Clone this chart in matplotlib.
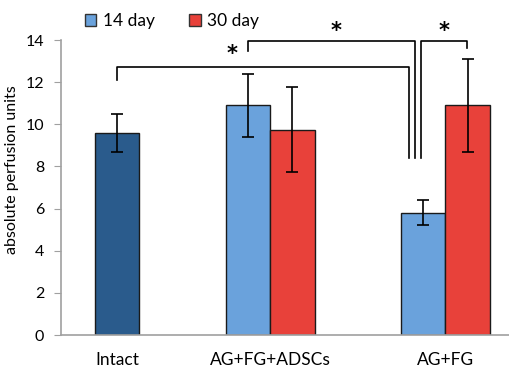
import matplotlib.pyplot as plt
from matplotlib.patches import Patch

plt.rcParams['font.family'] = ['Lato', 'DejaVu Sans']

# values
groups = ['Intact', 'AG+FG+ADSCs', 'AG+FG']
group_pos = [0, 3.44, 7.38]

intact_val = [9.6]
intact_err = [0.9]
day14_val = [10.9, 5.8]
day14_err = [1.5, 0.6]
day30_val = [9.75, 10.9]
day30_err = [2.0, 2.2]

c_intact = '#2a5b8c'
c_14 = '#6aa2dc'
c_30 = '#e8413a'

fig = plt.figure(figsize=(5.1, 3.71), dpi=100)
ax = fig.add_axes([0.1196, 0.097, 0.8804, 0.795])

ek = dict(ecolor='black', elinewidth=1.2, capsize=4, capthick=1.2)
ax.bar(group_pos[0], intact_val, 1, yerr=intact_err, color=c_intact,
       edgecolor='#1a1a1a', linewidth=1, error_kw=ek)
x14 = [p - 0.5 for p in group_pos[1:]]
x30 = [p + 0.5 for p in group_pos[1:]]
ax.bar(x14, day14_val, 1, yerr=day14_err, color=c_14,
       edgecolor='#1a1a1a', linewidth=1, error_kw=ek)
ax.bar(x30, day30_val, 1, yerr=day30_err, color=c_30,
       edgecolor='#1a1a1a', linewidth=1, error_kw=ek)

ax.set_xlim(-1.26, 8.83)
ax.set_ylim(0, 14)
ax.set_yticks(range(0, 15, 2))
ax.set_xticks(group_pos)
ax.set_xticklabels(groups, fontsize=12.5)
ax.tick_params(axis='x', length=0, pad=12)
ax.tick_params(axis='y', direction='out', length=5, color='#a0a0a0', labelsize=11.5, pad=7)
for s in ['top', 'right']:
    ax.spines[s].set_visible(False)
for s in ['left', 'bottom']:
    ax.spines[s].set_color('#a0a0a0')
    ax.spines[s].set_linewidth(1.2)
ax.set_ylabel('absolute perfusion units', fontsize=11.5)
ax.yaxis.set_label_coords(-0.094, 0.56)

# significance brackets
bk = dict(color='black', lw=1.2, clip_on=False)
low = 8.4
ax.plot([group_pos[0], group_pos[0], x14[1] - 0.33, x14[1] - 0.33],
        [12.1, 12.73, 12.73, low], **bk)
ax.plot([x14[0], x14[0], x14[1] - 0.18, x14[1] - 0.18],
        [13.5, 13.97, 13.97, low], **bk)
ax.plot([x14[1] - 0.05, x14[1] - 0.05, x30[1] - 0.02, x30[1] - 0.02],
        [low, 13.97, 13.97, 13.64], **bk)

st = dict(ha='center', va='center', fontsize=15, fontweight='bold',
          family='DejaVu Sans', clip_on=False)
ax.text(x14[0] - 0.36, 13.35, '*', **st)
ax.text((x14[0] + x14[1]) / 2, 14.45, '*', **st)
ax.text(group_pos[2] - 0.03, 14.45, '*', **st)

handles = [Patch(facecolor=c_14, edgecolor='#333333', label='14 day'),
           Patch(facecolor=c_30, edgecolor='#333333', label='30 day')]
fig.legend(handles=handles, loc='center left', bbox_to_anchor=(0.15, 0.943),
           ncol=2, frameon=False, fontsize=12.5, handlelength=0.65, handleheight=0.65,
           handletextpad=0.35, columnspacing=2.0, borderpad=0)

fig.savefig('out.png', dpi=100)
